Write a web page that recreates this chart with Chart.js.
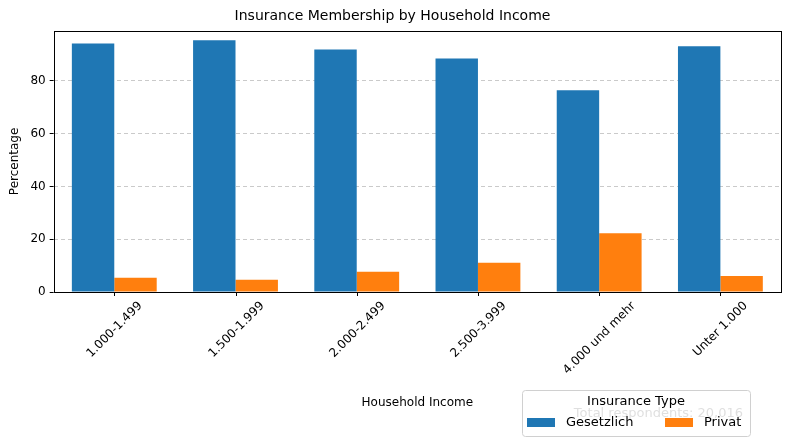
<!DOCTYPE html>
<html>
<head>
<meta charset="utf-8">
<script src="https://cdn.jsdelivr.net/npm/chart.js@4"></script>
<style>
  body { margin: 0; background: #fff; }
</style>
</head>
<body>
<canvas id="insuranceChart" width="790" height="446"></canvas>
<script>
var categories = ['1.000-1.499', '1.500-1.999', '2.000-2.499', '2.500-3.999', '4.000 und mehr', 'Unter 1.000'];
var gesetzlich = [94.2, 95.4, 91.9, 88.5, 76.5, 93.1];
var privat = [5.4, 4.6, 7.7, 11.1, 22.3, 6.1];
var yTicks = [0, 20, 40, 60, 80];
var font = 'DejaVu Sans';

// frame, x ticks, rotated labels, legend box and footnote drawn by hand
var extras = {
    id: 'extras',
    afterDraw: function (chart) {
        var c = chart.ctx, a = chart.chartArea;
        var xs = chart.scales.x;
        c.save();
        c.strokeStyle = '#000';
        c.lineWidth = 1;
        c.strokeRect(Math.round(a.left) + 0.5, Math.round(a.top) + 0.5,
            Math.round(a.right - a.left), Math.round(a.bottom - a.top));

        c.font = '12px ' + font;
        c.fillStyle = '#000';
        c.textAlign = 'center';
        c.textBaseline = 'middle';
        for (var k = 0; k < categories.length; k++) {
            var px = Math.round(xs.getPixelForValue(k)) + 0.5;
            c.beginPath();
            c.moveTo(px, a.bottom);
            c.lineTo(px, a.bottom + 4);
            c.stroke();
            var w = c.measureText(categories[k]).width;
            var off = (w / 2) * Math.SQRT1_2 + 6;
            c.save();
            c.translate(px, a.bottom + 6 + off);
            c.rotate(-Math.PI / 4);
            c.fillText(categories[k], 0, 0);
            c.restore();
        }
        c.fillText('Household Income', (a.left + a.right) / 2, 403);

        c.strokeStyle = '#d0d0d0';
        c.fillStyle = 'rgba(255,255,255,0.8)';
        c.beginPath();
        c.roundRect(522.5, 390.5, 228, 46, 3);
        c.fill();
        c.stroke();

        c.font = '13px ' + font;
        c.fillStyle = '#000';
        c.fillText('Insurance Type', 636, 402);
        c.fillStyle = 'rgba(150,150,150,0.3)';
        c.textAlign = 'right';
        c.fillText('Total respondents: 20,016', 743, 414);

        var ds = chart.data.datasets;
        var lx = [527, 665];
        c.textAlign = 'left';
        for (var i = 0; i < ds.length; i++) {
            c.fillStyle = ds[i].backgroundColor;
            c.fillRect(lx[i], 418, 28, 9);
            c.fillStyle = '#000';
            c.fillText(ds[i].label, lx[i] + 39, 423);
        }
        c.restore();
    }
};

new Chart(document.getElementById('insuranceChart'), {
    type: 'bar',
    data: {
        labels: categories,
        datasets: [
            { label: 'Gesetzlich', data: gesetzlich, backgroundColor: '#1f77b4' },
            { label: 'Privat', data: privat, backgroundColor: '#ff7f0e' }
        ]
    },
    options: {
        responsive: false,
        animation: false,
        devicePixelRatio: 1,
        layout: { padding: { left: 4, right: 9, top: 0, bottom: 154 } },
        datasets: { bar: { categoryPercentage: 0.7, barPercentage: 1 } },
        plugins: {
            legend: { display: false },
            tooltip: { enabled: false },
            title: {
                display: true,
                text: 'Insurance Membership by Household Income',
                color: '#000',
                font: { family: font, size: 14, weight: 'normal' },
                padding: { top: 8, bottom: 6 }
            }
        },
        scales: {
            x: { display: false },
            y: {
                min: 0,
                max: 99,
                afterBuildTicks: function (axis) {
                    axis.ticks = yTicks.map(function (v) { return { value: v }; });
                },
                grid: {
                    color: 'rgba(180,180,180,0.7)',
                    drawTicks: true,
                    tickColor: '#000',
                    tickLength: 4,
                    tickBorderDash: [4, 3]
                },
                border: { display: false, dash: [4, 3] },
                ticks: { color: '#000', font: { family: font, size: 12 }, padding: 4 },
                title: {
                    display: true, text: 'Percentage', color: '#000',
                    font: { family: font, size: 12 }
                }
            }
        }
    },
    plugins: [extras]
});
</script>
</body>
</html>
